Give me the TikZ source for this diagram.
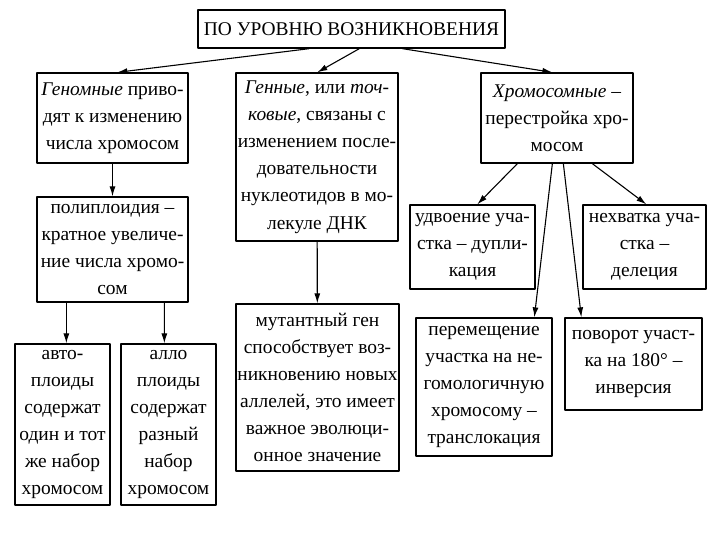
\documentclass[tikz,border=0pt]{standalone}
\usepackage{fontspec}
\setmainfont{Liberation Serif}
\usetikzlibrary{arrows.meta}
\begin{document}
\begin{tikzpicture}[>={Latex[length=10pt,width=6pt]},line join=bevel,
  box/.style={draw,line width=1.3pt,align=center,inner sep=0pt,
    font=\fontsize{19.5}{27.2}\selectfont},
  link/.style={black,->,line width=1.1pt},]
\useasboundingbox (0bp,0bp) rectangle (720bp,540bp);
%%
\node (level) at (351.5bp,511bp) [box,minimum width=307bp,minimum height=38bp] {ПО УРОВНЮ ВОЗНИКНОВЕНИЯ};
  \node (genomic) at (112.5bp,422bp) [box,minimum width=151bp,minimum height=90bp] {\textit{Геномные} приво-\\дят к изменению\\числа хромосом};
  \node (genic) at (317bp,383bp) [box,minimum width=162bp,minimum height=168bp] {\textit{Генные}, или \textit{точ-}\\\textit{ковые}, связаны с\\изменением после-\\довательности\\нуклеотидов в мо-\\лекуле ДНК};
  \node (chromosomal) at (557bp,422bp) [box,minimum width=152bp,minimum height=90bp] {\textit{Хромосомные} –\\перестройка хро-\\мосом};
  \node (polyploidy) at (112.5bp,290.5bp) [box,minimum width=151bp,minimum height=105bp] {полиплоидия –\\кратное увеличе-\\ние числа хромо-\\сом};
  \node (auto) at (62.5bp,115.5bp) [box,minimum width=95bp,minimum height=161bp] {авто-\\плоиды\\содержат\\один и тот\\же набор\\хромосом};
  \node (allo) at (168.5bp,115.5bp) [box,minimum width=95bp,minimum height=161bp] {алло\\плоиды\\содержат\\разный\\набор\\хромосом};
  \node (mutant) at (317.5bp,152.5bp) [box,minimum width=163bp,minimum height=167bp] {мутантный ген\\способствует воз-\\никновению новых\\аллелей, это имеет\\важное эволюци-\\онное значение};
  \node (duplication) at (472.5bp,293bp) [box,minimum width=125bp,minimum height=84bp] {удвоение уча-\\стка – дупли-\\кация};
  \node (deletion) at (644.5bp,293bp) [box,minimum width=123bp,minimum height=84bp] {нехватка уча-\\стка –\\делеция};
  \node (translocation) at (484bp,153bp) [box,minimum width=136bp,minimum height=138bp] {перемещение\\участка на не-\\гомологичную\\хромосому –\\транслокация};
  \node (inversion) at (633.5bp,176bp) [box,minimum width=137bp,minimum height=92bp] {поворот участ-\\ка на 180° –\\инверсия};
%
  \draw [link] ([xshift=112bp]level.south west) -- ([xshift=81bp]genomic.north west);
  \draw [link] ([xshift=162bp]level.south west) -- ([xshift=82bp]genic.north west);
  \draw [link] ([xshift=205bp]level.south west) -- ([xshift=72bp]chromosomal.north west);
  \draw [link] (genomic) -- (polyploidy);
  \draw [link] ([xshift=30bp]polyploidy.south west) -- ([xshift=52bp]auto.north west);
  \draw [link] ([xshift=128bp]polyploidy.south west) -- ([xshift=44bp]allo.north west);
  \draw [link] (genic) -- (mutant);
  \draw [link] ([xshift=37bp]chromosomal.south west) -- ([xshift=68bp]duplication.north west);
  \draw [link] ([xshift=72bp]chromosomal.south west) -- ([xshift=119bp]translocation.north west);
  \draw [link] ([xshift=83bp]chromosomal.south west) -- ([xshift=17bp]inversion.north west);
  \draw [link] ([xshift=112bp]chromosomal.south west) -- ([xshift=64bp]deletion.north west);
%
\end{tikzpicture}
\end{document}
